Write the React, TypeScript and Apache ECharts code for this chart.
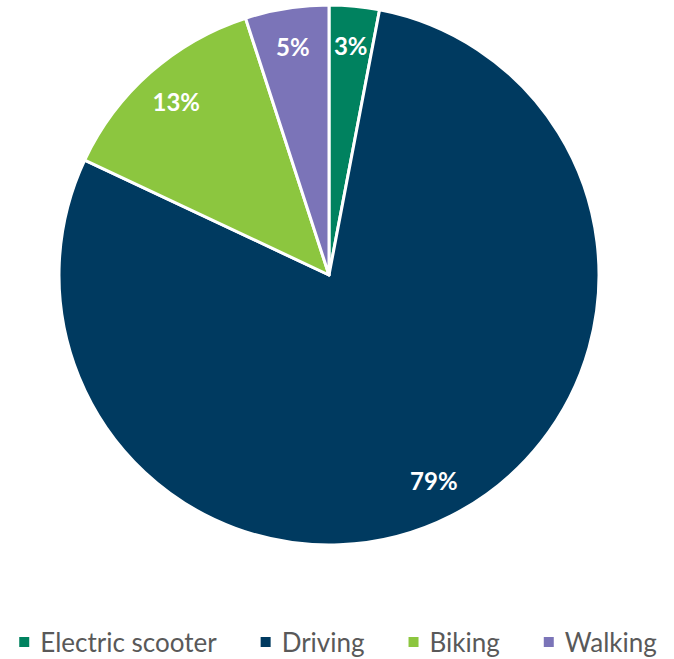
import React, { useEffect, useRef } from "react";
import * as echarts from "echarts";

const categories = ["Electric scooter", "Driving", "Biking", "Walking"];
const values = [3, 79, 13, 5];
const colors = ["#00825F", "#003A60", "#8CC63F", "#7B74B8"];

export default function App() {
  const ref = useRef<HTMLDivElement>(null);
  useEffect(() => {
    const chart = echarts.init(ref.current!, null, { renderer: "svg" });
    const data = categories.map((c, i) => ({ name: c, value: values[i], itemStyle: { color: colors[i] } }));
    chart.setOption({
      animation: false,
      legend: {
        data: categories,
        left: "center",
        top: 627,
        padding: 0,
        itemWidth: 12,
        itemHeight: 12,
        itemGap: 42,
        icon: "rect",
        textStyle: { fontSize: 26, lineHeight: 30, color: "#595959", fontFamily: "Lato", padding: [0, 0, 0, 5] },
      },
      series: [
        {
          type: "pie",
          center: [329, 275],
          radius: [0, 270],
          startAngle: 90,
          clockwise: true,
          data,
          label: { show: false },
          labelLine: { show: false },
          itemStyle: { borderColor: "#ffffff", borderWidth: 3 },
          silent: true,
        },
        {
          type: "pie",
          center: [329, 275],
          radius: [186, 270],
          startAngle: 90,
          clockwise: true,
          data: values.map((v) => ({ value: v })),
          itemStyle: { color: "rgba(0,0,0,0)" },
          label: {
            show: true,
            position: "inside",
            formatter: "{c}%",
            color: "#ffffff",
            fontSize: 24,
            fontWeight: "bold",
            fontFamily: "Lato",
          },
          labelLine: { show: false },
          silent: true,
        },
      ],
    });
    return () => chart.dispose();
  }, []);
  return <div ref={ref} style={{ position: "absolute", left: 0, top: 0, width: 674, height: 659 }} />;
}
